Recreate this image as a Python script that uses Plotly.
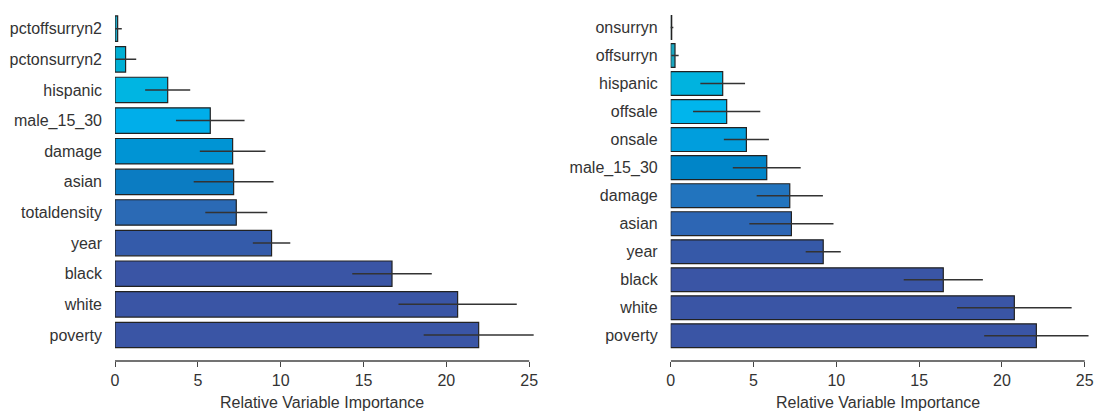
import plotly.graph_objects as go

# Model 1 (left panel): variables listed top to bottom
vars_left = ["pctoffsurryn2", "pctonsurryn2", "hispanic", "male_15_30", "damage",
             "asian", "totaldensity", "year", "black", "white", "poverty"]
imp_left = [0.16, 0.64, 3.18, 5.75, 7.10, 7.16, 7.32, 9.45, 16.72, 20.68, 21.95]
err_left = [0.25, 0.64, 1.36, 2.07, 1.98, 2.41, 1.87, 1.13, 2.40, 3.57, 3.32]
col_left = ["#1FA8C6", "#00AFD4", "#00B5E2", "#00AEEA", "#0094D4", "#0B7CC2",
            "#2B6AB5", "#345BAA", "#3A55A5", "#3A55A5", "#3A55A5"]

# Model 2 (right panel): variables listed top to bottom
vars_right = ["onsurryn", "offsurryn", "hispanic", "offsale", "onsale", "male_15_30",
              "damage", "asian", "year", "black", "white", "poverty"]
imp_right = [0.06, 0.26, 3.14, 3.38, 4.57, 5.80, 7.19, 7.29, 9.21, 16.46, 20.75, 22.08]
err_right = [0.10, 0.22, 1.35, 2.03, 1.36, 2.05, 2.00, 2.54, 1.06, 2.39, 3.46, 3.15]
col_right = ["#1A8FA8", "#1AA6C0", "#00B3DF", "#00B5EC", "#009EDD", "#0085C8",
             "#2274BE", "#2D66B4", "#3659A8", "#3A55A5", "#3A55A5", "#3A55A5"]

x_ticks = [0, 5, 10, 15, 20, 25]
x_title = "Relative Variable Importance"

FONT = "Liberation Sans, Arial, Helvetica, sans-serif"
TXT = "#333333"
AX = "#444444"
FS = 16

fig = go.Figure()


def add_panel(names, vals, errs, cols, xa, ya, width):
    fig.add_trace(go.Bar(
        y=names, x=vals, orientation="h",
        marker=dict(color=cols, line=dict(color="#222222", width=1.2)),
        width=width,
        error_x=dict(type="data", array=errs, symmetric=True,
                     color="#333333", thickness=1.5, width=0),
        xaxis=xa, yaxis=ya, cliponaxis=False, showlegend=False,
        hoverinfo="x+y",
    ))


add_panel(vars_left, imp_left, err_left, col_left, "x", "y", 0.83)
add_panel(vars_right, imp_right, err_right, col_right, "x2", "y2", 0.85)

xcommon = dict(
    range=[0, 25.5], tickvals=x_ticks, ticks="outside", ticklen=5, tickwidth=1.3,
    tickcolor=AX, showline=False, showgrid=False, zeroline=False, automargin=False,
    tickfont=dict(family=FONT, size=FS, color=TXT),
)
ycommon = dict(
    type="category", showgrid=False, zeroline=False, showline=False, ticks="",
    automargin=False, ticklabelstandoff=12,
    tickfont=dict(family=FONT, size=FS, color=TXT),
)

fig.update_layout(
    width=1094, height=411,
    margin=dict(l=0, r=0, t=10, b=50, pad=0, autoexpand=False),
    paper_bgcolor="white", plot_bgcolor="white",
    bargap=0.15,
    xaxis=dict(domain=[0.10512, 0.4913], anchor="y", **xcommon),
    yaxis=dict(anchor="x", categoryorder="array",
               categoryarray=vars_left[::-1], range=[-0.849, 10.61], **ycommon),
    xaxis2=dict(domain=[0.61307, 0.99909], anchor="y2", **xcommon),
    yaxis2=dict(anchor="x2", categoryorder="array",
                categoryarray=vars_right[::-1], range=[-0.90, 11.625], **ycommon),
)

# axis baselines spanning the tick range only
for xr, yr in [("x", "y domain"), ("x2", "y2 domain")]:
    fig.add_shape(type="line", xref=xr, yref=yr, x0=x_ticks[0], x1=x_ticks[-1],
                  y0=0, y1=0, line=dict(color=AX, width=1.3))
    fig.add_annotation(text=x_title, xref=xr, yref="paper", x=12.5, y=0,
                       yshift=-41, yanchor="middle", showarrow=False,
                       font=dict(family=FONT, size=FS, color=TXT))

fig.write_html("out.html")
